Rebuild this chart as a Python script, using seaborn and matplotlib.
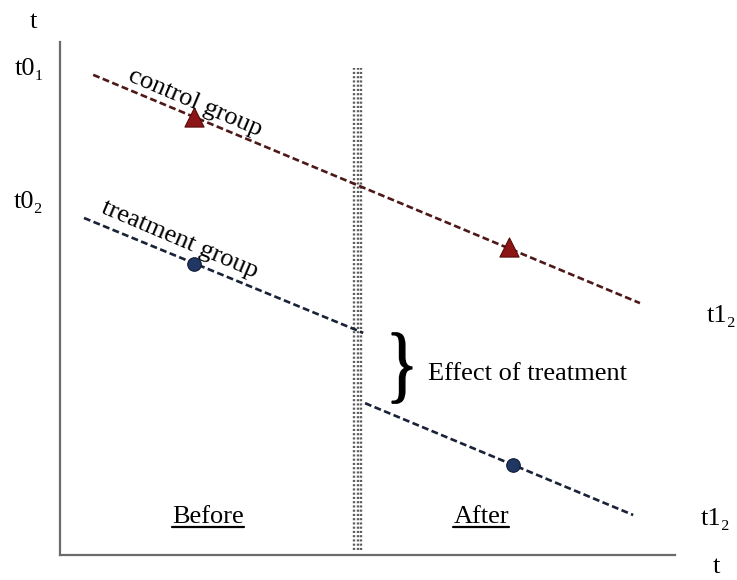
import numpy as np
import pandas as pd
import matplotlib
matplotlib.use("Agg")
import matplotlib.pyplot as plt
import seaborn as sns
from matplotlib.textpath import TextPath
from matplotlib.patches import PathPatch
from matplotlib.font_manager import FontProperties
from matplotlib.transforms import Affine2D
from matplotlib.lines import Line2D

# ---- data (schematic units: x = time, y = outcome) ----
ctrl_x = [0.54, 9.43]
ctrl_y = [9.36, 4.91]
ctrl_marker_x = [2.18, 7.30]
ctrl_marker_y = [8.54, 6.00]

treat_pre_x = [0.39, 4.93]
treat_pre_y = [6.57, 4.33]
treat_post_x = [4.96, 9.32]
treat_post_y = [2.96, 0.78]
treat_marker_x = [2.18, 7.37]
treat_marker_y = [5.67, 1.75]

treatment_time = 4.84

label_ctrl = "control group"
label_treat = "treatment group"
label_effect = "Effect of treatment"
label_before = "Before"
label_after = "After"
axis_label = "t"
tick_t01 = "t0\u2081"
tick_t02 = "t0\u2082"
tick_t12 = "t1\u2082"

sns.set_style("white")
FAM = ["Liberation Serif", "DejaVu Serif"]
plt.rcParams["font.family"] = FAM
plt.rcParams["text.color"] = "black"
FS = 19

fig = plt.figure(figsize=(7.37, 5.80), dpi=100)
ax = fig.add_axes([60 / 737, 25 / 580, 615 / 737, 513 / 580])
ax.set_xlim(0, 10)
ax.set_ylim(0, 10)
ax.set_xticks([])
ax.set_yticks([])
for s in ["top", "right"]:
    ax.spines[s].set_visible(False)
for s in ["left", "bottom"]:
    ax.spines[s].set_color("#6b6b6b")
    ax.spines[s].set_linewidth(1.6)

# treatment time band (dotted)
for dx in (-0.06, 0.0, 0.06):
    ax.vlines(treatment_time + dx, 0.1, 9.5, colors="#5e5e5e",
              linestyles=(0, (0.9, 0.9)), linewidth=1.7, zorder=1)

dash = (0, (2.6, 1.3))
ctrl_df = pd.DataFrame({"x": ctrl_x, "y": ctrl_y})
pre_df = pd.DataFrame({"x": treat_pre_x, "y": treat_pre_y})
post_df = pd.DataFrame({"x": treat_post_x, "y": treat_post_y})

sns.lineplot(data=ctrl_df, x="x", y="y", ax=ax, color="#4e1818",
             linewidth=1.9, linestyle=dash, estimator=None, sort=False, zorder=2)
sns.lineplot(data=pre_df, x="x", y="y", ax=ax, color="#1a2238",
             linewidth=1.9, linestyle=dash, estimator=None, sort=False, zorder=2)
sns.lineplot(data=post_df, x="x", y="y", ax=ax, color="#1a2238",
             linewidth=1.9, linestyle=dash, estimator=None, sort=False, zorder=2)

sns.scatterplot(x=ctrl_marker_x, y=ctrl_marker_y, ax=ax, marker="^", s=190,
                color="#8c1515", edgecolor="#5a0b0b", linewidth=0.8, zorder=3)
sns.scatterplot(x=treat_marker_x, y=treat_marker_y, ax=ax, marker="o", s=95,
                color="#203763", edgecolor="#0e1a33", linewidth=0.8, zorder=3)
ax.set_xlabel("")
ax.set_ylabel("")

# rotated group labels
ax.text(2.20, 8.81, label_ctrl, rotation=-23, ha="center", va="center",
        fontsize=FS, rotation_mode="anchor")
ax.text(1.95, 6.14, label_treat, rotation=-23, ha="center", va="center",
        fontsize=FS, rotation_mode="anchor")

# axis end labels
ax.text(-0.43, 10.27, axis_label, ha="center", va="baseline", fontsize=FS, clip_on=False)
ax.text(10.67, -0.36, axis_label, ha="center", va="baseline", fontsize=FS, clip_on=False)
ax.text(-0.49, 9.36, tick_t01, ha="center", va="baseline", fontsize=FS, clip_on=False)
ax.text(-0.51, 6.76, tick_t02, ha="center", va="baseline", fontsize=FS, clip_on=False)
ax.text(10.52, 4.54, tick_t12, ha="left", va="baseline", fontsize=FS, clip_on=False)
ax.text(10.41, 0.58, tick_t12, ha="left", va="baseline", fontsize=FS, clip_on=False)

# effect label + brace
ax.text(5.98, 3.41, label_effect, ha="left", va="baseline", fontsize=FS)
tp = TextPath((0, 0), "}", size=1, prop=FontProperties(family="Liberation Serif"))
ext = tp.get_extents()
bx0, bx1 = 5.40, 5.72
by0, by1 = treat_post_y[0], treat_pre_y[1]
tr = Affine2D().translate(-ext.x0, -ext.y0).scale((bx1 - bx0) / ext.width,
                                                   (by1 - by0) / ext.height).translate(bx0, by0)
ax.add_patch(PathPatch(tr.transform_path(tp), fc="black", ec="black", lw=1.0))

# Before / After underlined
t_before = ax.text(2.41, 0.62, label_before, ha="center", va="baseline", fontsize=FS)
t_after = ax.text(6.85, 0.62, label_after, ha="center", va="baseline", fontsize=FS)

fig.canvas.draw()
r = fig.canvas.get_renderer()
for t in (t_before, t_after):
    bb = t.get_window_extent(renderer=r)
    base = ax.transData.transform((0, 0.62))[1]
    y = base - 4
    (fx0, fy), (fx1, _) = fig.transFigure.inverted().transform([(bb.x0, y), (bb.x1, y)])
    fig.add_artist(Line2D([fx0, fx1], [fy, fy], color="black", linewidth=1.6,
                          transform=fig.transFigure))

fig.savefig("out.png", dpi=100)
